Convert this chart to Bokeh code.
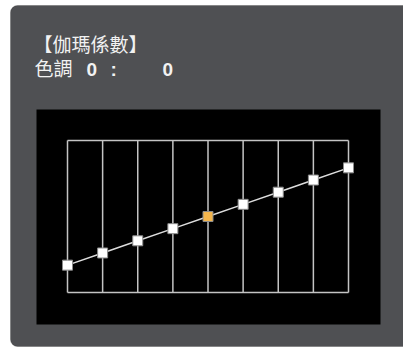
from bokeh.plotting import figure
from bokeh.models import Range1d, BoxAnnotation, ColumnDataSource
from bokeh.core.properties import value
from bokeh.embed import file_html
from bokeh.resources import INLINE

# ---- data ----
steps = [0, 1, 2, 3, 4, 5, 6, 7, 8]
levels = [18, 26, 34, 42, 50, 58, 66, 74, 82]
selected = 4
title_text = "【伽瑪係數】"
label_text = "色調"
val_a = "0"
sep = ":"
val_b = "0"

# ---- layout (page pixels) ----
W, H = 403, 350
OFF = 0
GX0, GX1 = 67, 348   # grid left/right on page
GY0, GY1 = 292, 140  # grid bottom/top on page
XMIN, XMAX = min(steps), max(steps)
YMIN, YMAX = 0, 100

sx = (XMAX - XMIN) / (GX1 - GX0)
sy = (YMAX - YMIN) / (GY0 - GY1)
x_start = XMIN - (GX0 - OFF) * sx
x_end = x_start + W * sx
y_end = YMAX + (GY1 - OFF) * sy
y_start = y_end - H * sy


def px(x):
    return x_start + (x - OFF) * sx


def py(y):
    return y_end - (y - OFF) * sy


p = figure(width=W, height=H, output_backend="svg", toolbar_location=None,
           x_range=Range1d(x_start, x_end), y_range=Range1d(y_start, y_end),
           min_border=0, min_border_left=0, min_border_right=0,
           min_border_top=0, min_border_bottom=0)
p.axis.visible = False
p.grid.visible = False
p.outline_line_color = None
p.background_fill_color = "white"
p.border_fill_color = "white"

# panel
p.add_layout(BoxAnnotation(left=px(10), right=px(412), top=py(5), bottom=py(346),
                           fill_color="#4f5053", fill_alpha=1,
                           line_color="#3a3a3c", line_width=1, border_radius=7,
                           level="underlay"))
# black screen
p.add_layout(BoxAnnotation(left=px(36), right=px(380), top=py(109), bottom=py(324),
                           fill_color="black", fill_alpha=1, line_color=None,
                           level="underlay"))

# grid vertical lines
for s in steps:
    p.segment(x0=s, x1=s, y0=YMIN, y1=YMAX, line_color="#c4c4c4", line_width=1.5)
# frame top/bottom
p.segment(x0=[XMIN, XMIN], x1=[XMAX, XMAX], y0=[YMIN, YMAX], y1=[YMIN, YMAX],
          line_color="#c4c4c4", line_width=1.5)

src = ColumnDataSource(dict(x=steps, y=levels,
                            c=["#f4b54c" if i == selected else "white" for i in range(len(steps))]))
p.line("x", "y", source=src, line_color="#dcdcdc", line_width=1.5)
p.scatter("x", "y", source=src, marker="square", size=10, fill_color="c",
          line_color="#8a8a8a", line_width=1)

# texts
font = value("Noto Sans CJK TC")
p.text(x=[px(33)], y=[py(43)], text=[title_text], text_color="#f2f2f2",
       text_font=font, text_font_size="19px", text_baseline="middle")
p.text(x=[px(34)], y=[py(67)], text=[label_text], text_color="#f2f2f2",
       text_font=font, text_font_size="19px", text_baseline="middle")
p.text(x=[px(86), px(110), px(162)], y=[py(69)] * 3, text=[val_a, sep, val_b],
       text_color="#f2f2f2", text_font=value("Liberation Sans"),
       text_font_size="19px", text_font_style="bold", text_baseline="middle")

open("out.html", "w").write(file_html(p, INLINE))
